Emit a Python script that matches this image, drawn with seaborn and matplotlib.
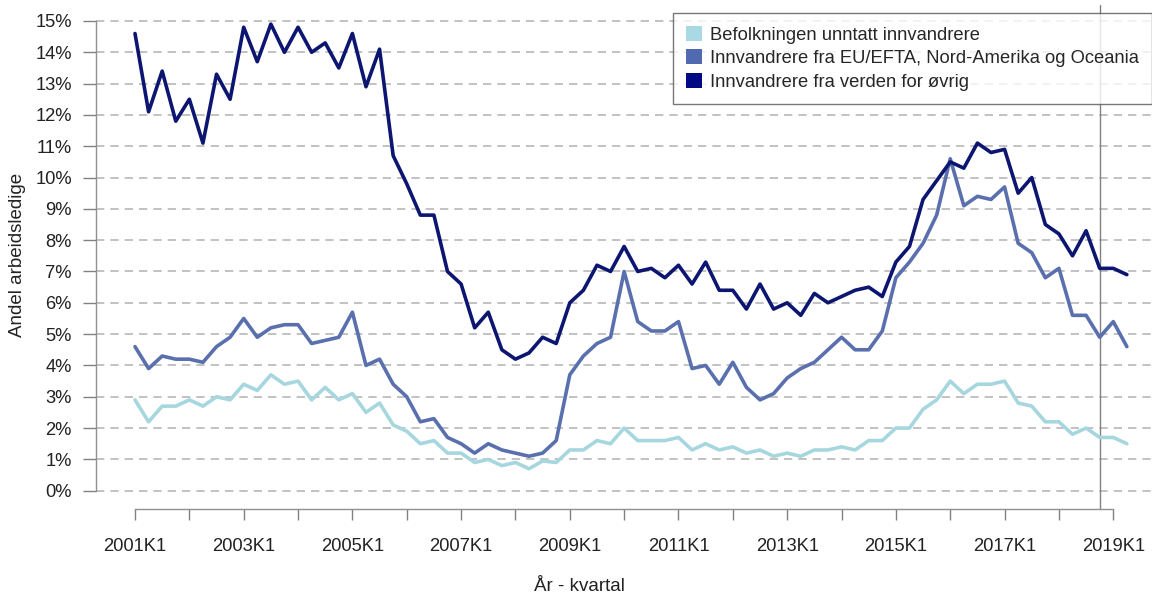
import numpy as np
import pandas as pd
import matplotlib
matplotlib.use('Agg')
import matplotlib.pyplot as plt
from matplotlib.patches import Patch
import seaborn as sns

# Kvartaler 2001K1 - 2019K2
kvartaler = [f'{aar}K{k}' for aar in range(2001, 2020) for k in range(1, 5)][:74]

# Andel arbeidsledige (%)
befolkningen = [2.9, 2.2, 2.7, 2.7, 2.9, 2.7, 3.0, 2.9, 3.4, 3.2,
                3.7, 3.4, 3.5, 2.9, 3.3, 2.9, 3.1, 2.5, 2.8, 2.1,
                1.9, 1.5, 1.6, 1.2, 1.2, 0.9, 1.0, 0.8, 0.9, 0.7,
                0.95, 0.9, 1.3, 1.3, 1.6, 1.5, 2.0, 1.6, 1.6, 1.6,
                1.7, 1.3, 1.5, 1.3, 1.4, 1.2, 1.3, 1.1, 1.2, 1.1,
                1.3, 1.3, 1.4, 1.3, 1.6, 1.6, 2.0, 2.0, 2.6, 2.9,
                3.5, 3.1, 3.4, 3.4, 3.5, 2.8, 2.7, 2.2, 2.2, 1.8,
                2.0, 1.7, 1.7, 1.5]
eu_efta = [4.6, 3.9, 4.3, 4.2, 4.2, 4.1, 4.6, 4.9, 5.5, 4.9,
           5.2, 5.3, 5.3, 4.7, 4.8, 4.9, 5.7, 4.0, 4.2, 3.4,
           3.0, 2.2, 2.3, 1.7, 1.5, 1.2, 1.5, 1.3, 1.2, 1.1,
           1.2, 1.6, 3.7, 4.3, 4.7, 4.9, 7.0, 5.4, 5.1, 5.1,
           5.4, 3.9, 4.0, 3.4, 4.1, 3.3, 2.9, 3.1, 3.6, 3.9,
           4.1, 4.5, 4.9, 4.5, 4.5, 5.1, 6.8, 7.3, 7.9, 8.8,
           10.6, 9.1, 9.4, 9.3, 9.7, 7.9, 7.6, 6.8, 7.1, 5.6,
           5.6, 4.9, 5.4, 4.6]
verden_ovrig = [14.6, 12.1, 13.4, 11.8, 12.5, 11.1, 13.3, 12.5, 14.8, 13.7,
                14.9, 14.0, 14.8, 14.0, 14.3, 13.5, 14.6, 12.9, 14.1, 10.7,
                9.8, 8.8, 8.8, 7.0, 6.6, 5.2, 5.7, 4.5, 4.2, 4.4,
                4.9, 4.7, 6.0, 6.4, 7.2, 7.0, 7.8, 7.0, 7.1, 6.8,
                7.2, 6.6, 7.3, 6.4, 6.4, 5.8, 6.6, 5.8, 6.0, 5.6,
                6.3, 6.0, 6.2, 6.4, 6.5, 6.2, 7.3, 7.8, 9.3, 9.9,
                10.5, 10.3, 11.1, 10.8, 10.9, 9.5, 10.0, 8.5, 8.2, 7.5,
                8.3, 7.1, 7.1, 6.9]

grupper = ['Befolkningen unntatt innvandrere',
           'Innvandrere fra EU/EFTA, Nord-Amerika og Oceania',
           'Innvandrere fra verden for øvrig']
linjefarger = ['#a6d7df', '#5a6fae', '#0c1670']
legendefarger = ['#a8d9e4', '#5069b1', '#000a82']
skillelinje = '2018K4'

df = pd.DataFrame({
    'pos': list(range(len(kvartaler))) * 3,
    'andel': befolkningen + eu_efta + verden_ovrig,
    'gruppe': [grupper[0]] * len(kvartaler) + [grupper[1]] * len(kvartaler) + [grupper[2]] * len(kvartaler),
})

sns.set_style('white')
plt.rcParams['font.family'] = ['Liberation Sans', 'DejaVu Sans']

fig = plt.figure(figsize=(11.52, 5.96), dpi=100)
ax = fig.add_axes([96 / 1152, 1 - 509 / 596, 1 - 96 / 1152, 509 / 596])

sns.lineplot(data=df, x='pos', y='andel', hue='gruppe', hue_order=grupper,
             palette=linjefarger, linewidth=2.6, legend=False, ax=ax, zorder=3)

ax.set_xlim(-2.87, 74.85)
ax.set_ylim(-0.585, 15.67)

# y-akse
ax.set_yticks(range(0, 16))
ax.set_yticklabels([f'{v}%' for v in range(0, 16)], fontsize=13.2, color='#222222')
ax.grid(axis='y', linestyle=(0, (5, 3.6)), linewidth=1.2, color='#b8b8b8', zorder=1)
ax.grid(axis='x', visible=False)

# x-akse: tick hvert aar, etikett annethvert aar
tick_pos = list(range(0, 73, 4))
ax.set_xticks(tick_pos)
ax.set_xticklabels([kvartaler[p] if (p // 4) % 2 == 0 else '' for p in tick_pos],
                   fontsize=13.2, color='#222222')

ax.tick_params(axis='y', length=9.4, width=1, color='#808080', pad=8, left=True)
ax.tick_params(axis='x', length=8, width=1, color='#808080', pad=13, bottom=True)

for s in ['top', 'right']:
    ax.spines[s].set_visible(False)
ax.spines['left'].set_bounds(0, 15)
ax.spines['bottom'].set_bounds(0, 72)
for s in ['left', 'bottom']:
    ax.spines[s].set_color('#909090')
    ax.spines[s].set_linewidth(1)

ax.axvline(kvartaler.index(skillelinje), ymin=0, ymax=0.99, color='#808080', linewidth=1, zorder=2)

ax.set_xlabel('År - kvartal', fontsize=13.5, color='#222222')
ax.xaxis.set_label_coords(0.458, -0.136)
ax.set_ylabel('Andel arbeidsledige', fontsize=13.5, color='#222222')
ax.yaxis.set_label_coords(-0.066, 0.499)

handles = [Patch(facecolor=c, edgecolor='none') for c in legendefarger]
leg = fig.legend(handles, grupper, loc='upper left',
                 bbox_to_anchor=(673 / 1152, 1 - 13 / 596), bbox_transform=fig.transFigure,
                 fontsize=13.2, frameon=True, fancybox=False, borderaxespad=0,
                 handlelength=0.87, handleheight=0.87, handletextpad=0.45,
                 labelspacing=0.3, borderpad=0.72)
leg.get_frame().set_edgecolor('#555555')
leg.get_frame().set_linewidth(1)
leg.set_zorder(5)

fig.savefig('out.png', dpi=100)
